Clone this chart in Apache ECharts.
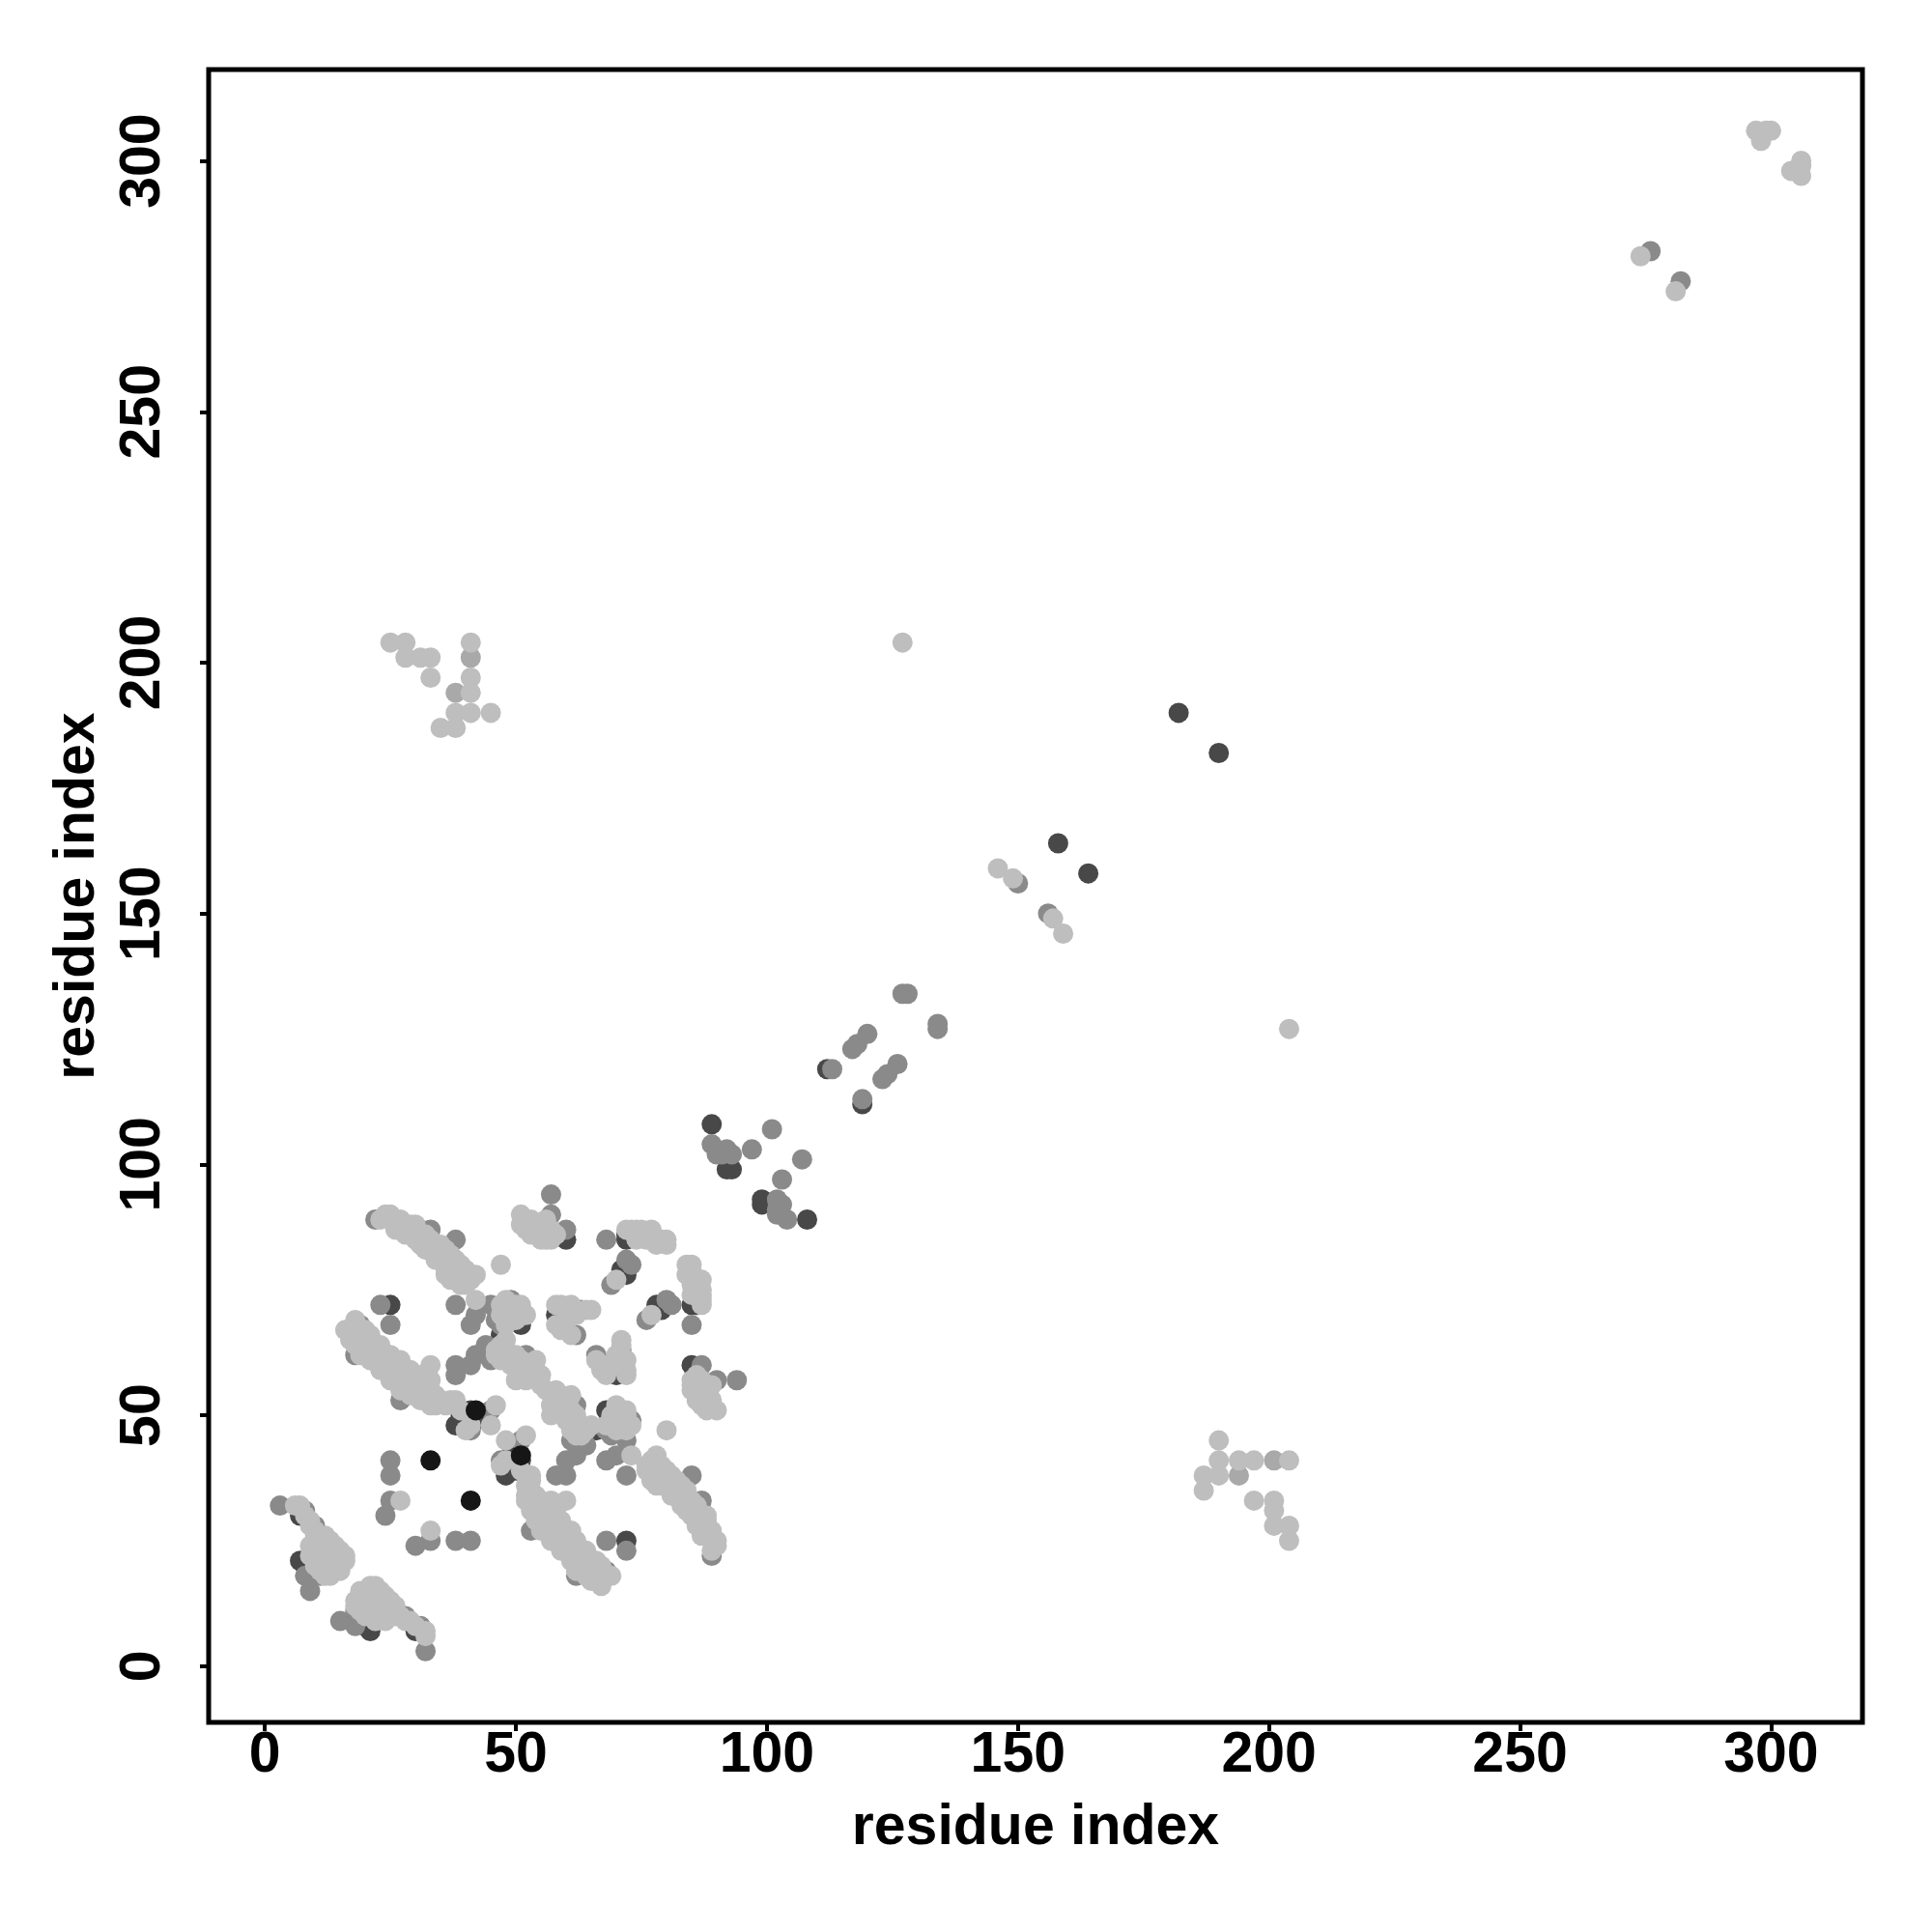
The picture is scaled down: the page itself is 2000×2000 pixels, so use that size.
<!DOCTYPE html>
<html><head><meta charset="utf-8">
<script src="https://cdn.jsdelivr.net/npm/echarts@6/dist/echarts.min.js"></script>
<style>html,body{margin:0;padding:0;background:#fff}#c{width:2000px;height:2000px}</style>
</head><body><div id="c"></div>
<script>
// Residue contact pairs (i < j); the map is symmetric, each pair is drawn at (i,j) and (j,i)
const tickValues = [0, 50, 100, 150, 200, 250, 300];
const axisMin = -11.2, axisMax = 318.2;

const blackPairs = [[33,41],[42,51]];

const darkPairs = [
  [7,30],[7,21],[9,18],[8,20],
  [41,51],[42,49],[38,48],[39,50],[43,50],
  [30,87],[25,72],[51,68],[47,66],
  [58,70],[59,69],[60,70],
  [71,79],[72,79],[72,78],[72,85],[72,86],[60,85],
  [89,108],[92,99],[93,99],[112,119],[158,164],[182,190]
];

const midPairs = [
  [3,32],[8,31],[10,28],[8,18],[9,15],[11,18],
  [24,30],[25,33],[25,38],[25,41],[41,47],[45,51],
  [33,87],[38,85],[31,87],[22,89],
  [23,72],[25,68],[19,68],[18,62],[27,53],
  [38,72],[45,72],[42,70],[41,68],[47,68],[38,60],[38,58],[42,62],[41,60],[45,61],[44,64],
  [49,73],[46,69],[52,62],[63,71],[62,66],
  [73,80],[72,81],[69,76],[68,85],
  [57,94],[57,90],[60,87],
  [89,104],[90,102],[91,102],[92,103],[93,102],[97,103],[101,107],
  [113,119],[117,123],[118,124],[120,126],[127,134],[128,134],
  [150,156],[276,282]
];

const paleMidPairs = [[41,201],[38,194]];

const lightPairs = [
  [6,32],[7,32],[8,30],[9,29],[9,28],[10,27],[10,26],[11,25],[11,24],[12,24],[12,23],[13,22],[14,22],[15,21],[16,21],
  [10,23],[10,22],[11,22],[11,21],[12,21],[10,20],[11,20],[12,20],[13,20],[14,20],[11,19],[12,19],[13,18],[9,24],[9,22],[10,21],[13,21],
  [12,26],[13,25],[14,24],[15,23],[16,22],[12,18],[14,19],[15,19],
  [27,33],[39,51],[40,47],[35,53],[36,52],[46,52],[45,48],[41,48],
  [23,89],[24,90],[25,90],[26,89],[27,89],[28,88],[29,88],[30,88],[31,86],[32,86],[33,85],[34,84],[35,84],[36,83],[37,82],[38,81],[39,80],[40,79],[41,78],[42,78],
  [27,87],[29,86],[31,84],[33,83],[34,82],[35,81],[36,80],[37,79],[38,78],[39,78],[40,77],[36,78],[38,77],
  [26,87],[28,86],[30,85],[32,83],[34,81],[36,79],[37,77],[39,76],[40,76],[41,77],
  [16,67],[17,67],[18,66],[19,66],[20,65],[21,64],[21,63],[22,62],[23,62],[24,61],[25,60],[26,60],[27,59],[28,58],[29,57],[30,57],[31,56],[32,55],[33,55],[34,54],[35,53],[37,53],[38,53],
  [33,60],[19,64],[20,63],[22,61],[23,60],[24,59],[26,58],[27,57],[28,56],[30,55],[32,54],[34,52],[25,58],[29,55],[18,69],[20,67],
  [19,62],[21,61],[23,59],[25,57],[27,55],[29,54],[31,53],[33,52],[17,65],[18,64],[21,66],[23,64],[25,62],[27,61],[29,59],[31,58],[33,57],
  [42,73],[46,62],
  [47,72],[50,72],[47,70],[48,71],[49,70],[50,69],[51,72],[52,70],[48,68],[48,73],
  [47,64],[48,63],[49,62],[50,62],[51,61],[52,60],[53,60],[54,59],[55,58],[48,65],[46,63],[49,60],[51,59],[53,58],[47,61],[50,57],[52,57],[55,56],[54,61],
  [58,72],[59,72],[60,71],[61,70],[62,70],[58,68],[59,67],[60,67],[61,66],[64,71],[65,71],[61,72],[60,69],
  [70,77],
  [72,87],[73,87],[74,87],[75,86],[76,86],[77,86],[78,85],[79,85],[80,85],[74,85],[76,85],[78,84],[80,84],[75,87],[77,87],
  [51,90],[52,89],[53,89],[54,88],[55,88],[56,87],[57,87],[52,87],[53,86],[54,86],[55,85],[56,85],[57,85],[58,86],[51,88],[53,88],[55,87],[56,89],[47,80],
  [146,159],[149,157],[127,204],[274,281],[297,306],[299,306],[300,306],[298,304],
  [25,204],[28,204],[28,201],[31,201],[33,201],[33,197],[41,204],[41,197],[41,194],[38,190],[41,190],[45,190],[35,187],[38,187]
];

function bothWays(pairs) {
  const out = [];
  pairs.forEach(function (p) { out.push([p[0], p[1]]); out.push([p[1], p[0]]); });
  return out;
}

const FONT = '"Liberation Sans", Arial, Helvetica, sans-serif';
const txt = { fontSize: 59, fontWeight: 'bold', color: '#000', fontFamily: FONT };

function mkSeries(name, pairs, color) {
  return {
    name: name, type: 'scatter', data: bothWays(pairs),
    symbol: 'circle', symbolSize: 21,
    itemStyle: { color: color, opacity: 1 },
    emphasis: { disabled: true }, silent: true
  };
}

function axis(isY) {
  return {
    type: 'value', min: axisMin, max: axisMax,
    name: 'residue index', nameLocation: 'middle',
    nameGap: isY ? 106 : 80, nameRotate: isY ? 90 : 0,
    nameTextStyle: Object.assign({}, txt),
    axisLine: { show: false, onZero: false },
    axisTick: { show: true, customValues: tickValues, length: 9, inside: false,
      lineStyle: { color: '#000', width: 4 } },
    axisLabel: Object.assign({ customValues: tickValues, margin: isY ? 38 : 5, rotate: isY ? 90 : 0 }, txt),
    splitLine: { show: false }
  };
}

const chart = echarts.init(document.getElementById('c'), null, { renderer: 'canvas' });
chart.setOption({
  animation: false,
  backgroundColor: '#fff',
  grid: { left: 216, top: 72, right: 72, bottom: 217, show: true,
    borderColor: '#000', borderWidth: 5, backgroundColor: 'transparent' },
  xAxis: axis(false),
  yAxis: axis(true),
  series: [
    mkSeries('dark', darkPairs, '#484848'),
    mkSeries('mid', midPairs, '#8a8a8a'),
    mkSeries('palemid', paleMidPairs, '#a9a9a9'),
    mkSeries('light', lightPairs, '#bebebe'),
    mkSeries('black', blackPairs, '#161616')
  ]
});
</script></body></html>
